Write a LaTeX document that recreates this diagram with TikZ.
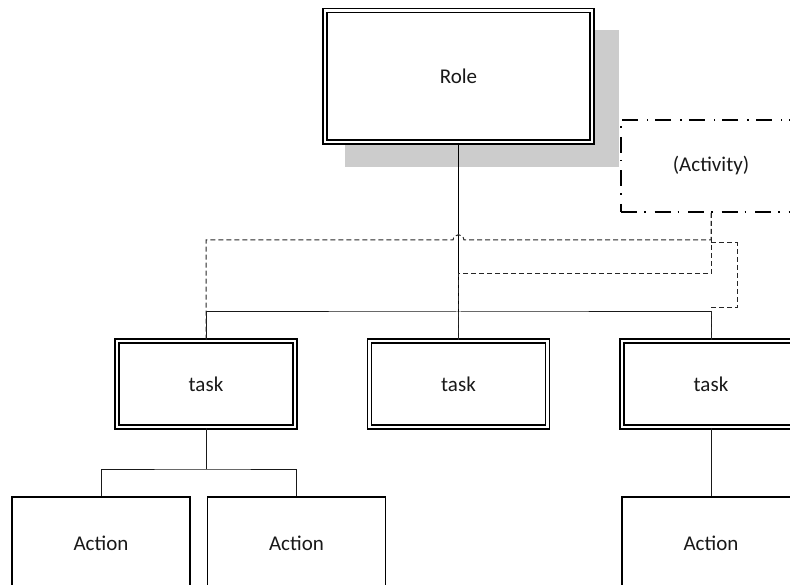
\documentclass[tikz,border=0pt]{standalone}
\usepackage{fontspec}
\setmainfont{Carlito}
\usetikzlibrary{calc}

\tikzset{
  lbl/.style={font=\fontsize{21}{25}\selectfont, text=black!90, inner sep=0pt},
  dblbox/.style={lbl, draw=black, line width=1.7pt, double=white, double distance=2.4pt, fill=white},
  plainbox/.style={lbl, draw=black, line width=1.8pt, fill=white},
  dashdotbox/.style={lbl, draw=black, line width=2pt, dash pattern=on 16pt off 7pt on 1.5pt off 9pt},
  link/.style={draw=black!90, line width=1pt},
  trunk/.style={draw=black, line width=1.4pt},
  dlink/.style={draw=black!85, line width=1pt, dash pattern=on 5pt off 3pt},
  shade/.style={fill=black!20}
}

\begin{document}
\begin{tikzpicture}[x=1pt, y=-1pt]
  \useasboundingbox (0,0) rectangle (790,585);
  \clip (0,0) rectangle (790,585);

  % drop shadow behind the role box
  \fill[shade] (345,30) rectangle (619,167);

  % role and activity
  \node[dblbox, minimum width=266.7pt, minimum height=131.5pt] (role) at (458.5,76.3) {Role};
  \node[dashdotbox, minimum width=180pt, minimum height=92pt] (act) at (711,166) {(Activity)};

  % tasks
  \node[dblbox, minimum width=178pt, minimum height=86pt] (taskL) at (206,384) {task};
  \node[dblbox, minimum width=178pt, minimum height=86pt] (taskM) at (458.5,384) {task};
  \node[dblbox, minimum width=178pt, minimum height=86pt] (taskR) at (711,384) {task};

  % actions
  \node[plainbox, minimum width=178pt, minimum height=92pt] (actA) at (101,543) {Action};
  \node[plainbox, minimum width=178pt, minimum height=92pt] (actB) at (296.5,543) {Action};
  \node[plainbox, minimum width=178pt, minimum height=92pt] (actC) at (711,543) {Action};

  % bus points of the tree
  \coordinate (bus) at (458.5,312);
  \coordinate (abus) at (206,469);

  % solid hierarchy
  \draw[trunk] (role.south) -- (bus);
  \draw[link] (taskL.north) |- (bus) -| (taskR.north);
  \draw[link] (bus) -- (taskM.north);
  \draw[link] (taskL.south) -- (abus);
  \draw[link] (actA.north) |- (abus) -| (actB.north);
  \draw[link] (taskR.south) -- (actC.north);

  % dashed links from the activity to each task
  \draw[dlink] (act.south) -- (act.south |- 0,240) -- (464,240)
    .. controls (463,233) and (454,233) .. (453,240) -| (taskL.north);
  \draw[dlink] (act.south) -- (act.south |- 0,274) -| (taskM.north);
  \draw[dlink] (act.south |- 0,243) -- (737,243) -- (737,308)
    -- (711,308) -- (taskR.north);
\end{tikzpicture}
\end{document}
